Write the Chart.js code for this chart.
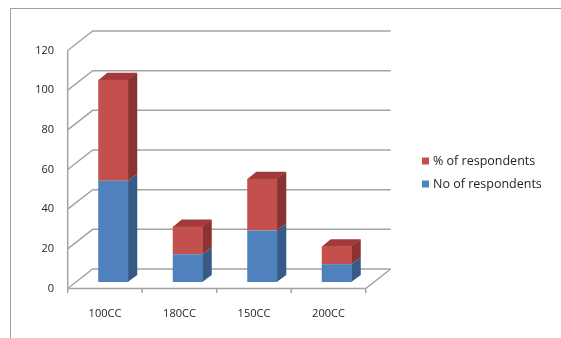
<!DOCTYPE html>
<html>
<head>
<meta charset="utf-8">
<script src="https://cdn.jsdelivr.net/npm/chart.js@4"></script>
<style>
  html, body { margin: 0; padding: 0; background: #fff; }
  #wrap { position: relative; width: 561px; height: 338px; overflow: hidden; }
  #frame { position: absolute; left: 10px; top: 8px; right: -5px; bottom: -5px;
           border-top: 1px solid #a2a2a2; border-left: 1px solid #a2a2a2; }
  canvas { position: absolute; left: 0; top: 0; }
</style>
</head>
<body>
<div id="wrap">
  <div id="frame"></div>
  <canvas id="c" width="561" height="338"></canvas>
</div>
<script>
// Engine sizes and survey results
const categories = ['100CC', '180CC', '150CC', '200CC'];
const noOfRespondents = [51, 14, 26, 9];
const pctOfRespondents = [51, 14, 26, 9];
const yTickValues = [0, 20, 40, 60, 80, 100, 120];

// 3D look: offsets from the plane the bars' front faces sit in
const FRONT = { dx: -8.3, dy: 6.5 };   // front edge of floor / left wall
const BACK = { dx: 16.7, dy: -13 };    // back wall
const DEPTH = { dx: 9, dy: -7 };       // depth of each column
const GRID_COLOR = '#a4a4a4';

const shades = {
  blue: { front: '#4f81bd', side: '#375a87', top: '#4472a8' },
  red: { front: '#c3504c', side: '#8a3331', top: '#a2393a' }
};

const wallsAndDepth = {
  id: 'wallsAndDepth',
  beforeDatasetsDraw(chart) {
    const ctx = chart.ctx;
    const x = chart.scales.x, y = chart.scales.y;
    const L = x.left, R = x.right;
    ctx.save();
    ctx.strokeStyle = GRID_COLOR;
    ctx.lineWidth = 1.5;
    // back wall gridlines and left wall slants
    yTickValues.forEach(v => {
      const py = y.getPixelForValue(v);
      ctx.beginPath();
      ctx.moveTo(L + FRONT.dx, py + FRONT.dy);
      ctx.lineTo(L + BACK.dx, py + BACK.dy);
      ctx.lineTo(R + BACK.dx, py + BACK.dy);
      ctx.stroke();
    });
    const y0 = y.getPixelForValue(0);
    const yTop = y.getPixelForValue(yTickValues[yTickValues.length - 1]);
    // left front edge
    ctx.beginPath();
    ctx.moveTo(L + FRONT.dx, yTop + FRONT.dy);
    ctx.lineTo(L + FRONT.dx, y0 + FRONT.dy);
    // floor front and right edges
    ctx.lineTo(R + FRONT.dx, y0 + FRONT.dy);
    ctx.lineTo(R + BACK.dx, y0 + BACK.dy);
    ctx.stroke();
    // category tick marks under the floor
    const n = categories.length;
    const step = (R - L) / n;
    for (let i = 0; i <= n; i++) {
      const px = L + FRONT.dx + i * step;
      ctx.beginPath();
      ctx.moveTo(px, y0 + FRONT.dy);
      ctx.lineTo(px, y0 + FRONT.dy + 4.5);
      ctx.stroke();
    }

    // side and top faces of the stacked columns
    const lastIdx = chart.data.datasets.length - 1;
    chart.data.datasets.forEach((ds, di) => {
      const meta = chart.getDatasetMeta(di);
      const sh = ds.shades;
      meta.data.forEach(bar => {
        const p = bar.getProps(['x', 'y', 'base', 'width'], true);
        const left = p.x - p.width / 2, right = p.x + p.width / 2;
        const top = Math.min(p.y, p.base), bottom = Math.max(p.y, p.base);
        ctx.fillStyle = sh.side;
        ctx.beginPath();
        ctx.moveTo(right - 0.5, top);
        ctx.lineTo(right + DEPTH.dx, top + DEPTH.dy);
        ctx.lineTo(right + DEPTH.dx, bottom + DEPTH.dy);
        ctx.lineTo(right - 0.5, bottom);
        ctx.closePath();
        ctx.fill();
        if (di === lastIdx) {
          ctx.fillStyle = sh.top;
          ctx.beginPath();
          ctx.moveTo(left, top + 0.5);
          ctx.lineTo(left + DEPTH.dx, top + DEPTH.dy);
          ctx.lineTo(right + DEPTH.dx, top + DEPTH.dy);
          ctx.lineTo(right, top + 0.5);
          ctx.closePath();
          ctx.fill();
        }
      });
    });
    ctx.restore();
  },
  afterDraw(chart) {
    // legend, listed top series first
    const ctx = chart.ctx;
    ctx.save();
    ctx.font = '12.5px "Open Sans", Lato, sans-serif';
    ctx.textBaseline = 'middle';
    ctx.textAlign = 'left';
    const items = chart.data.datasets.slice().reverse();
    items.forEach((ds, i) => {
      const cy = 161 + i * 23;
      ctx.fillStyle = ds.backgroundColor;
      ctx.fillRect(422, cy - 3.5, 7, 7);
      ctx.fillStyle = '#1e1e1e';
      ctx.fillText(ds.label, 433, cy);
    });
    ctx.restore();
  }
};

new Chart(document.getElementById('c'), {
  type: 'bar',
  data: {
    labels: categories,
    datasets: [
      { label: 'No of respondents', data: noOfRespondents,
        backgroundColor: shades.blue.front, shades: shades.blue },
      { label: '% of respondents', data: pctOfRespondents,
        backgroundColor: shades.red.front, shades: shades.red }
    ]
  },
  options: {
    responsive: false,
    animation: false,
    events: [],
    layout: { padding: { top: 44, right: 187, left: 0, bottom: 0 } },
    datasets: { bar: { categoryPercentage: 1, barPercentage: 0.403, borderWidth: 0 } },
    plugins: { legend: { display: false }, tooltip: { enabled: false } },
    scales: {
      x: {
        stacked: true,
        grid: { display: false, drawTicks: false },
        border: { display: false },
        ticks: { padding: 25, labelOffset: -8.3, color: '#1e1e1e',
                 font: { family: '"Open Sans", Lato, sans-serif', size: 11 } },
        afterFit(s) { s.height = 56; }
      },
      y: {
        stacked: true,
        min: 0, max: 120,
        grid: { display: false, drawTicks: false },
        border: { display: false },
        ticks: { stepSize: 20, padding: 22, labelOffset: 6.5, color: '#1e1e1e',
                 font: { family: '"Open Sans", Lato, sans-serif', size: 11 } },
        afterFit(s) { s.width = 76; }
      }
    }
  },
  plugins: [wallsAndDepth]
});
</script>
</body>
</html>
